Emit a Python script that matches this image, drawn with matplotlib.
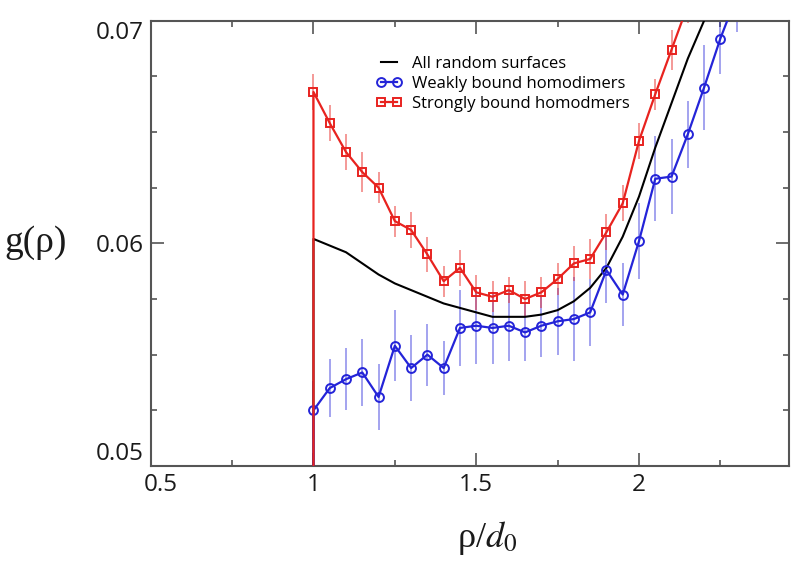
import matplotlib
matplotlib.use("Agg")
import matplotlib.pyplot as plt
import matplotlib.transforms as mtransforms
from matplotlib.ticker import MultipleLocator

# ---- data ----
x_red = [1.00, 1.05, 1.10, 1.15, 1.20, 1.25, 1.30, 1.35, 1.40, 1.45, 1.50, 1.55,
         1.60, 1.65, 1.70, 1.75, 1.80, 1.85, 1.90, 1.95, 2.00, 2.05, 2.10, 2.15]
y_red = [0.0668, 0.0654, 0.0641, 0.0632, 0.0625, 0.0610, 0.0606, 0.0595, 0.0583, 0.0589,
         0.0578, 0.0576, 0.0579, 0.0575, 0.0578, 0.0584, 0.0591, 0.0593, 0.0605, 0.0618,
         0.0646, 0.0667, 0.0687, 0.0707]
e_red = [0.0008, 0.0008, 0.0008, 0.0009, 0.0007, 0.0007, 0.0008, 0.0008, 0.0007, 0.0008,
         0.0008, 0.0007, 0.0006, 0.0008, 0.0007, 0.0007, 0.0008, 0.0009, 0.0008, 0.0008,
         0.0008, 0.0007, 0.0009, 0.0008]

x_blue = [1.00, 1.05, 1.10, 1.15, 1.20, 1.25, 1.30, 1.35, 1.40, 1.45, 1.50, 1.55,
          1.60, 1.65, 1.70, 1.75, 1.80, 1.85, 1.90, 1.95, 2.00, 2.05, 2.10, 2.15,
          2.20, 2.25, 2.30]
y_blue = [0.0525, 0.0535, 0.0539, 0.0542, 0.0531, 0.0554, 0.0544, 0.0550, 0.0544, 0.0562,
          0.0563, 0.0562, 0.0563, 0.0560, 0.0563, 0.0565, 0.0566, 0.0569, 0.0588, 0.0577,
          0.0601, 0.0629, 0.0630, 0.0649, 0.0670, 0.0692, 0.0711]
e_blue = [0.0013, 0.0013, 0.0014, 0.0015, 0.0015, 0.0016, 0.0015, 0.0014, 0.0012, 0.0017,
          0.0017, 0.0016, 0.0016, 0.0013, 0.0014, 0.0015, 0.0019, 0.0015, 0.0015, 0.0014,
          0.0017, 0.0019, 0.0017, 0.0015, 0.0019, 0.0016, 0.0016]

x_black = [1.00, 1.05, 1.10, 1.15, 1.20, 1.25, 1.30, 1.35, 1.40, 1.45, 1.50, 1.55,
           1.60, 1.65, 1.70, 1.75, 1.80, 1.85, 1.90, 1.95, 2.00, 2.05, 2.10, 2.15,
           2.20, 2.25]
y_black = [0.0602, 0.0599, 0.0596, 0.0591, 0.0586, 0.0582, 0.0579, 0.0576, 0.0573, 0.0571,
           0.0569, 0.0567, 0.0567, 0.0567, 0.0568, 0.0570, 0.0574, 0.0580, 0.0589, 0.0603,
           0.0621, 0.0643, 0.0663, 0.0683, 0.0700, 0.0718]

labels = ["All random surfaces", "Weakly bound homodimers", "Strongly bound homodmers"]
xticks = [0.5, 1.0, 1.5, 2.0]
xticklabels = ["0.5", "1", "1.5", "2"]
yticks = [0.05, 0.06, 0.07]
yticklabels = ["0.05", "0.06", "0.07"]

# ---- style ----
plt.rcParams['font.family'] = ['Open Sans', 'DejaVu Sans']
plt.rcParams['mathtext.fontset'] = 'stix'

RED = '#e8231f'
BLUE = '#2424d8'
SPINE = '#555555'

fig = plt.figure(figsize=(8.0, 5.63), dpi=100)
ax = fig.add_axes([0.1884, 0.1723, 0.7975, 0.7909])

# black curve (with vertical rise at x=1)
ax.plot([x_black[0]] + x_black, [0.0] + y_black, color='black', lw=1.5,
        label=labels[0], zorder=3)

# blue series
ax.errorbar(x_blue, y_blue, yerr=e_blue, fmt='none', ecolor=BLUE, alpha=0.45,
            elinewidth=1.3, capsize=0, zorder=2)
ax.plot([x_blue[0]] + x_blue, [0.0] + y_blue, color=BLUE, lw=1.6, marker='o',
        markevery=list(range(1, len(x_blue) + 1)), ms=6.4, mfc='none',
        mec=BLUE, mew=1.4, zorder=4, label=labels[1])

# red series
ax.errorbar(x_red, y_red, yerr=e_red, fmt='none', ecolor=RED, alpha=0.5,
            elinewidth=1.3, capsize=0, zorder=2)
ax.plot([x_red[0]] + x_red, [0.0] + y_red, color=RED, lw=1.6, marker='s',
        markevery=list(range(1, len(x_red) + 1)), ms=5.6, mfc='none',
        mec=RED, mew=1.4, zorder=5, label=labels[2])

ax.set_xlim(0.5, 2.46)
ax.set_ylim(0.05, 0.07)

ax.set_xticks(xticks)
ax.set_xticklabels(xticklabels)
ax.set_yticks(yticks)
ax.set_yticklabels(yticklabels)
ax.xaxis.set_minor_locator(MultipleLocator(0.25))
ax.yaxis.set_minor_locator(MultipleLocator(0.0025))

ax.tick_params(which='both', direction='in', top=True, right=True, color=SPINE,
               width=1.2)
ax.tick_params(which='major', length=9.5, labelsize=17.5, pad=5, labelcolor='#1a1a1a')
ax.tick_params(which='minor', length=4)
for s in ax.spines.values():
    s.set_color(SPINE)
    s.set_linewidth(1.5)

# keep the corner labels apart, as in the reference
ylabs = ax.get_yticklabels()
ylabs[0].set_va('bottom')
ylabs[-1].set_va('top')
xlabs = ax.get_xticklabels()
xlabs[0].set_transform(xlabs[0].get_transform() +
                       mtransforms.ScaledTranslation(10 / 100, 0, fig.dpi_scale_trans))

fig.text(36 / 800, 1 - 243 / 563, 'g(ρ)', family=['Liberation Serif', 'DejaVu Serif'],
         fontsize=27, ha='center', va='center', color='#1a1a1a')
fig.text(487 / 800, 1 - 538 / 563, r'ρ/$d_{\mathit{0}}$', family=['Liberation Serif', 'DejaVu Serif'],
         fontsize=26, ha='center', va='center', color='#1a1a1a')

leg = ax.legend(loc='upper left', bbox_to_anchor=(0.342, 0.936), frameon=False,
                fontsize=12, handlelength=1.6, numpoints=2, handletextpad=0.6,
                labelspacing=0.25, borderaxespad=0)

fig.savefig('out.png', dpi=100)
